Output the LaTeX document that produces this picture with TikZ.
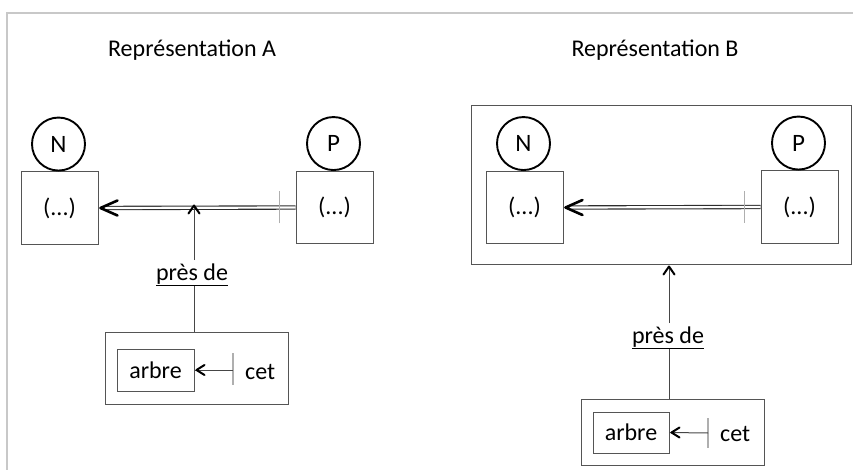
\documentclass[tikz,border=0pt]{standalone}
\usepackage{fontspec}
\setmainfont{Carlito}
\definecolor{framegray}{RGB}{200,200,200}
\definecolor{boxgray}{RGB}{85,85,85}
\definecolor{tickgray}{RGB}{175,175,175}
\definecolor{linegray}{RGB}{70,70,70}
\definecolor{dblgray}{RGB}{45,45,45}
\tikzset{
  txt/.style={font=\fontsize{24}{28}\selectfont, inner sep=0pt},
  circ/.style={circle, draw=black, line width=1.9pt, minimum size=53pt, inner sep=0pt, font=\fontsize{25}{28}\selectfont},
  bigbox/.style={draw=boxgray, line width=1pt, minimum width=77pt, minimum height=72pt, inner sep=0pt, font=\fontsize{24}{28}\selectfont},
  smallbox/.style={draw=boxgray, line width=1pt, minimum width=77pt, minimum height=42pt, inner sep=0pt, font=\fontsize{24}{28}\selectfont},
  frm/.style={draw=boxgray, line width=1pt},
  dbl/.style={draw=dblgray, line width=1.1pt, double=white, double distance=2.2pt},
  bigtip/.style={draw=black, line width=2.6pt, line cap=round, line join=round},
  smalltipshape/.style={draw=black, line width=2pt, line cap=round, line join=round},
  tick/.style={draw=tickgray, line width=1.7pt},
  vline/.style={draw=linegray, line width=1pt}
}
\begin{document}
\begin{tikzpicture}[x=1pt, y=-1pt]
\useasboundingbox (0,0) rectangle (853,470);
\draw[framegray, line width=2pt] (853,13) -- (7,13) -- (7,470);

% titles
\node[txt, anchor=base] (titleA) at (192,57) {Représentation A};
\node[txt, anchor=base] (titleB) at (655,57) {Représentation B};

% ---------------- Representation A
\node[bigbox] (NboxA) at (59.5,208) {(...)};
\node[bigbox] (PboxA) at (334.5,207.5) {(...)};
\node[circ, anchor=south] (NcA) at ([xshift=-1pt]NboxA.north) {N};
\node[circ, anchor=south] (PcA) at ([xshift=-1pt]PboxA.north) {P};
\coordinate (hA) at ([xshift=2pt]NboxA.east);
\draw[dbl] (PboxA.west) -- ([xshift=4pt]hA);
\draw[bigtip] ([xshift=17pt,yshift=-7.5pt]hA) -- (hA) -- ([xshift=17pt,yshift=7.5pt]hA);
\coordinate (tkA) at ([xshift=-16pt]PboxA.west);
\draw[tick] ([yshift=-16pt]tkA) -- ([yshift=16pt]tkA);

\node[txt, anchor=base] (presA) at (192,280) {\underline{près de}};
\coordinate (mA) at (194,205.5);
\draw[vline] ([yshift=3pt]presA.north -| mA) -- (mA);
\draw[smalltipshape] ([xshift=-5.5pt,yshift=-8pt]mA) -- (mA) -- ([xshift=5.5pt,yshift=-8pt]mA);

\draw[frm] (105,332) rectangle (288,404);
\coordinate (boxAtop) at (194,332);
\draw[vline] (boxAtop) -- (boxAtop |- presA.south);

\node[smallbox] (arbreA) at (155.5,370) {arbre};
\node[txt, anchor=base west] (cetA) at (245,379) {cet};
\coordinate (tA) at (233,370);
\draw[tick] (233,353) -- (233,385);
\draw[vline] (tA) -- (arbreA.east);
\coordinate (aA) at ([xshift=2pt]arbreA.east);
\draw[smalltipshape] ([xshift=8pt,yshift=-5pt]aA) -- (aA) -- ([xshift=8pt,yshift=5pt]aA);

% ---------------- Representation B
\node[draw=boxgray, line width=1pt, minimum width=380pt, minimum height=158pt, inner sep=0pt] (bigB) at (661,185) {};
\node[bigbox] (NboxB) at (524.5,207.5) {(...)};
\node[bigbox] (PboxB) at (799.5,207) {(...)};
\node[circ, anchor=south] (NcB) at ([xshift=-1pt]NboxB.north) {N};
\node[circ, anchor=south] (PcB) at ([xshift=-1pt]PboxB.north) {P};
\coordinate (hB) at ([xshift=2pt]NboxB.east);
\draw[dbl] (PboxB.west) -- ([xshift=4pt]hB);
\draw[bigtip] ([xshift=17pt,yshift=-7.5pt]hB) -- (hB) -- ([xshift=17pt,yshift=7.5pt]hB);
\coordinate (tkB) at ([xshift=-16pt]PboxB.west);
\draw[tick] ([yshift=-16pt]tkB) -- ([yshift=16pt]tkB);

\node[txt, anchor=base] (presB) at (668,343) {\underline{près de}};
\coordinate (mB) at ([yshift=-2pt]bigB.south -| 669,0);
\draw[vline] ([yshift=3pt]presB.north -| mB) -- (mB);
\draw[smalltipshape] ([xshift=-5.5pt,yshift=-8pt]mB) -- (mB) -- ([xshift=5.5pt,yshift=-8pt]mB);

\node[draw=boxgray, line width=1pt, minimum width=183pt, minimum height=66pt, inner sep=0pt] (lowB) at (672.5,432) {};
\draw[vline] (lowB.north -| mB) -- (presB.south -| mB);

\node[smallbox, minimum width=76pt, minimum height=41pt] (arbreB) at (631,432.5) {arbre};
\node[txt, anchor=base west] (cetB) at (720,441) {cet};
\coordinate (tB) at (708,433);
\draw[tick] (708,418) -- (708,448);
\draw[vline] (tB) -- (arbreB.east);
\coordinate (aB) at ([xshift=2pt]arbreB.east);
\draw[smalltipshape] ([xshift=8pt,yshift=-5pt]aB) -- (aB) -- ([xshift=8pt,yshift=5pt]aB);
\end{tikzpicture}
\end{document}
